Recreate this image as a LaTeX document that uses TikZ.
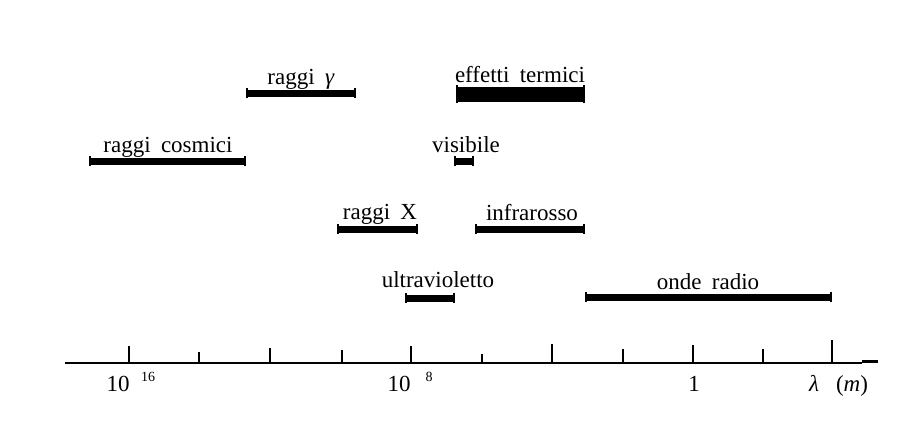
\documentclass[tikz,border=0pt]{standalone}
\usepackage{fontspec}
\setmainfont{Liberation Serif}
\newcommand\lblfont{\fontsize{23}{27}\selectfont\spaceskip=0.45em\relax}
\begin{document}
\begin{tikzpicture}[x=1pt,y=-1pt,
  lbl/.style={anchor=base,inner sep=0pt,font=\lblfont},
  sup/.style={anchor=base,inner sep=0pt,font=\fontsize{14}{16}\selectfont},
  band/.style={line width=7pt},
  thickband/.style={line width=15pt},
  endtick/.style={line width=1.5pt},
  tickmark/.style={line width=1.6pt},
  axis/.style={line width=1.8pt}]
\useasboundingbox (0,0) rectangle (924,447);

% bands
\coordinate (gL) at (247,93); \coordinate (gR) at (355,93);
\draw[band] (gL) -- (gR);
\node[lbl] (gT) at (301,84) {raggi \textit{γ}};

\coordinate (eL) at (457,94); \coordinate (eR) at (584,94);
\draw[thickband] (eL) -- (eR);
\node[lbl] (eT) at (520,82) {effetti termici};

\coordinate (cL) at (90,161); \coordinate (cR) at (245,161);
\draw[band] (cL) -- (cR);
\node[lbl] (cT) at (168,152) {raggi cosmici};

\coordinate (vL) at (455,161); \coordinate (vR) at (473,161);
\draw[band] (vL) -- (vR);
\node[lbl] (vT) at (466,152) {visibile};

\coordinate (xL) at (338,229); \coordinate (xR) at (417,229);
\draw[band] (xL) -- (xR);
\node[lbl] (xT) at (380,219) {raggi X};

\coordinate (iL) at (476,229); \coordinate (iR) at (584,229);
\draw[band] (iL) -- (iR);
\node[lbl] (iT) at (532,220) {infrarosso};

\coordinate (uL) at (406,298); \coordinate (uR) at (454,298);
\draw[band] (uL) -- (uR);
\node[lbl] (uT) at (438,287) {ultravioletto};

\coordinate (rL) at (586,297); \coordinate (rR) at (831,297);
\draw[band] (rL) -- (rR);
\node[lbl] (rT) at (708,289) {onde radio};

\foreach \c in {gL,gR,cL,cR,vL,vR,xL,xR,iL,iR,uL,uR,rL,rR}
  \draw[endtick] ([yshift=-5pt]\c) -- ([yshift=5pt]\c);
\foreach \c in {eL,eR}
  \draw[endtick] ([yshift=-9pt]\c) -- ([yshift=9pt]\c);

% axis
\coordinate (a0) at (65,363); \coordinate (a1) at (862,363);
\coordinate (a2) at (862,361.5); \coordinate (a3) at (878,361.5);
\draw[axis] (a0) -- (a1);
\draw[line width=2.4pt] (a2) -- (a3);
\foreach \x/\h in {129/17,199/11,270/15,342/13,411/17,482/9,552/19,623/14,693/18,763/14,832/23}
  \draw[tickmark] (\x,363) -- (\x,363-\h);

\node[lbl] (n16) at (118,391) {10};
\node[sup] (e16) at (148,381) {16};
\node[lbl] (n8) at (399,391) {10};
\node[sup] (e8) at (429,381) {8};
\node[lbl] (n1) at (694,391) {1};
\node[lbl] (lam) at (814,391) {\textit{λ}};
\node[lbl] (unit) at (852,391) {(\textit{m})};
\end{tikzpicture}
\end{document}
